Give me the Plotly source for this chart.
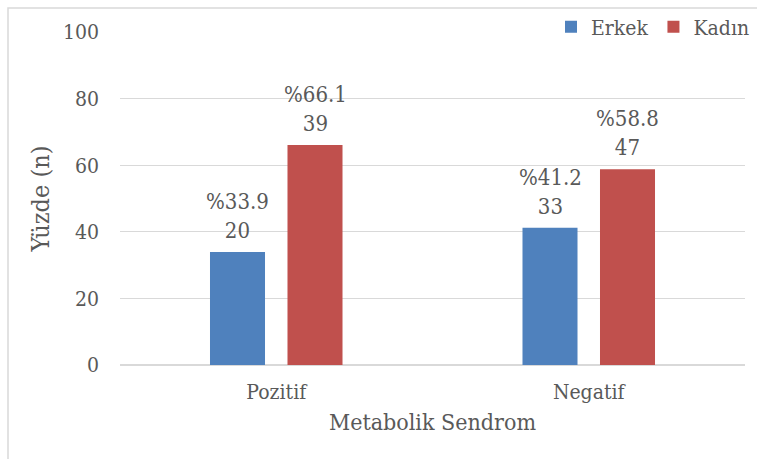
import plotly.graph_objects as go

categories = ["Pozitif", "Negatif"]
series_names = ["Erkek", "Kadın"]
erkek_pct = [33.9, 41.2]
kadin_pct = [66.1, 58.8]
erkek_n = [20, 33]
kadin_n = [39, 47]
y_ticks = [0, 20, 40, 60, 80, 100]

colors = ["#4F81BD", "#C0504D"]
font_family = "'DejaVu Serif Condensed', 'DejaVu Serif', serif"
text_color = "#595959"
FS = 21

L, R, T, B = 120, 12, 32, 94
W, H = 757, 459
pw, ph = W - L - R, H - T - B
BARGAP = 0.504
slot = pw / len(categories) * (1 - BARGAP) / 2

fig = go.Figure()
series = [(series_names[0], erkek_pct, erkek_n, colors[0], -slot / 2),
          (series_names[1], kadin_pct, kadin_n, colors[1], slot / 2)]
for name, pct, n, col, shift in series:
    fig.add_trace(go.Bar(x=categories, y=pct, name=name, marker_color=col, marker_line_width=0))
    for cat, p, c in zip(categories, pct, n):
        fig.add_annotation(x=cat, y=p, xref="x", yref="y", text=f"%{p}<br>{c}",
                           showarrow=False, xshift=shift, yshift=8, yanchor="bottom",
                           borderpad=0, font=dict(family=font_family, size=22, color=text_color))

def px_to_py(ypix):
    return (H - B - ypix) / ph

def px_to_px(xpix):
    return (xpix - L) / pw

fig.update_layout(
    width=W, height=H,
    margin=dict(l=L, r=R, t=T, b=B, autoexpand=False),
    paper_bgcolor="white", plot_bgcolor="white",
    barmode="group", bargap=BARGAP, bargroupgap=0.29,
    font=dict(family=font_family, size=FS, color=text_color),
    legend=dict(orientation="h", x=px_to_px(755), xanchor="right", y=px_to_py(27), yanchor="middle",
                font=dict(family=font_family, size=FS, color=text_color), bgcolor="rgba(0,0,0,0)",
                itemwidth=30, traceorder="normal"),
    xaxis=dict(showgrid=False, showline=False, ticks="", ticklabelstandoff=12,
               tickfont=dict(family=font_family, size=FS),
               title=dict(text="Metabolik Sendrom", font=dict(family=font_family, size=FS + 2), standoff=10)),
    yaxis=dict(range=[0, 100], tickvals=y_ticks, showgrid=True, gridcolor="#D9D9D9", gridwidth=1,
               zeroline=True, zerolinecolor="#D9D9D9", zerolinewidth=1.5, showline=False,
               ticks="", ticklabelstandoff=20, tickfont=dict(family=font_family, size=FS),
               title=dict(text="Yüzde (n)", font=dict(family=font_family, size=25), standoff=6)),
    showlegend=True,
)

# outer chart border
fig.add_shape(type="rect", xref="paper", yref="paper",
              x0=px_to_px(8), x1=px_to_px(W + 10),
              y0=px_to_py(H + 10), y1=px_to_py(8),
              line=dict(color="#D9D9D9", width=1.5), layer="below")

fig.write_html("out.html")
